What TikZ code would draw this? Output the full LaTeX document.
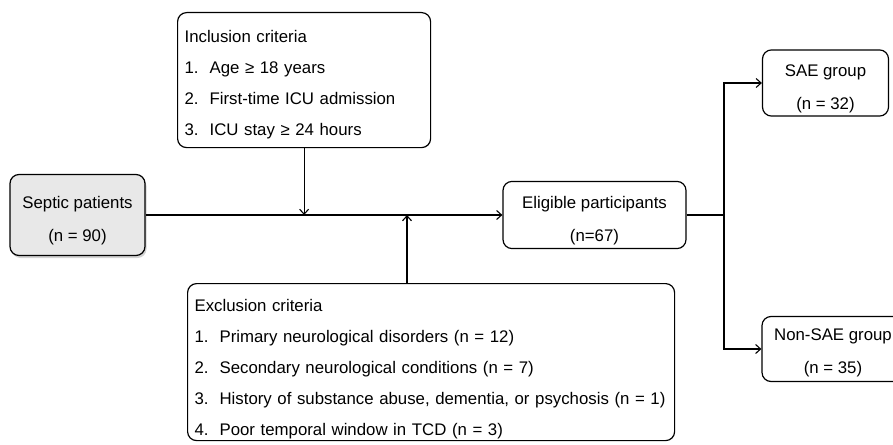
\documentclass[tikz,border=0pt]{standalone}
\usepackage{fontspec}
\setmainfont{Liberation Sans}
\usetikzlibrary{arrows.meta,shadows}
\newcommand{\tallstrut}[1]{\rule{0pt}{#1}}

\begin{document}
\begin{tikzpicture}[x=1pt,y=-1pt,>={Straight Barb[length=5pt,width=9pt]},
  box/.style={draw, rounded corners=9pt, line width=1.2pt, align=center,
    font=\fontsize{16.8}{33}\selectfont},
  listbox/.style={box, align=left, anchor=north west, inner xsep=7pt,
    font=\fontsize{16.8}{31}\selectfont},
  link/.style={line width=1.1pt}]
  \useasboundingbox (0,0) rectangle (893,444);

  % boxes
  \node[box, fill=gray!18, drop shadow={opacity=0.35, shadow xshift=1.5pt, shadow yshift=-2.5pt},
    minimum width=135pt, minimum height=81pt] (septic) at (77.5,215) {\tallstrut{24pt}Septic patients\\(n = 90)};
  \node[listbox, text width=239pt, minimum height=135pt] (incl) at (177,12)
    {\tallstrut{22pt}Inclusion criteria\\
     \makebox[25pt][l]{1.}Age ≥ 18 years\\
     \makebox[25pt][l]{2.}First-time ICU admission\\
     \makebox[25pt][l]{3.}ICU stay ≥ 24 hours};
  \node[listbox, text width=473pt, minimum height=157pt, inner ysep=1pt] (excl) at (187,283)
    {\tallstrut{27pt}Exclusion criteria\\
     \mbox{\makebox[25pt][l]{1.}Primary neurological disorders (n = 12)}\\
     \mbox{\makebox[25pt][l]{2.}Secondary neurological conditions (n = 7)}\\
     \mbox{\makebox[25pt][l]{3.}History of substance abuse, dementia, or psychosis (n = 1)}\\
     \mbox{\makebox[25pt][l]{4.}Poor temporal window in TCD (n = 3)}};
  \node[box, minimum width=183pt, minimum height=66pt] (eligible) at (594.5,215) {\tallstrut{24pt}Eligible participants\\(n=67)};
  \node[box, minimum width=126pt, minimum height=64pt] (sae) at (825.5,83) {\tallstrut{23pt}SAE group\\(n = 32)};
  \node[box, minimum width=142pt, minimum height=65pt] (nonsae) at (833,349) {\tallstrut{20pt}Non-SAE group\\(n = 35)};

  % connectors
  \coordinate (exctop) at (407,283);
  \coordinate (split) at (724,215);
  \draw[link,->] (septic) -- (eligible);
  \draw[link,->] (incl) -- (incl |- septic);
  \draw[link,->] (exctop) -- (exctop |- septic);
  \draw[link] (eligible) -- (split);
  \draw[link,->] (split) |- (sae);
  \draw[link,->] (split) |- (nonsae);
\end{tikzpicture}
\end{document}
